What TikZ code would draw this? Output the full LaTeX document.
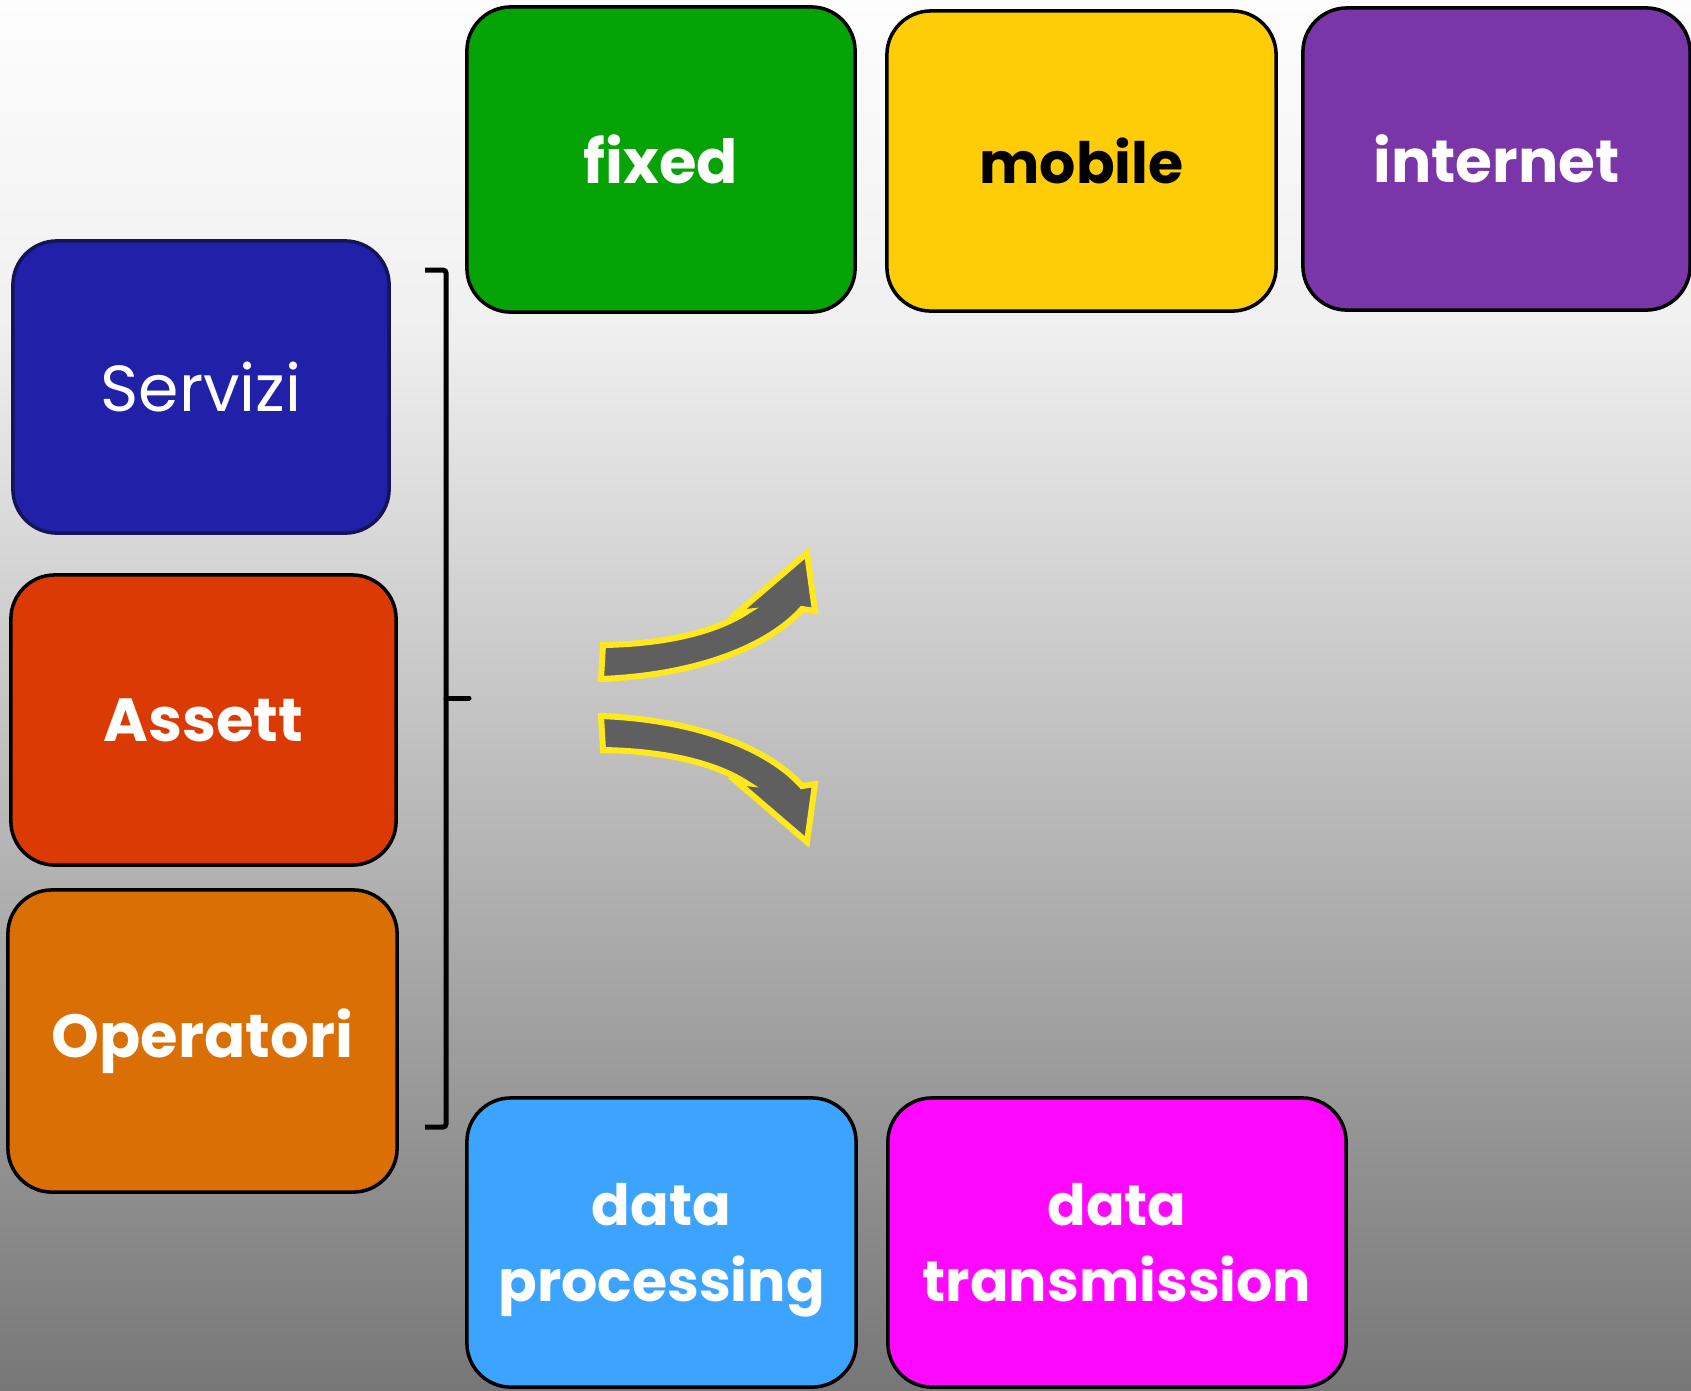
\documentclass[tikz,border=0pt]{standalone}
\usepackage{fontspec}
\setmainfont{Poppins}
\definecolor{bgtop}{RGB}{253,253,253}
\definecolor{bgmid}{RGB}{240,240,240}
\definecolor{bgbot}{RGB}{119,119,119}
\definecolor{cservizi}{RGB}{32,32,168}
\definecolor{cservizib}{RGB}{20,20,90}
\definecolor{cassett}{RGB}{220,58,5}
\definecolor{coperatori}{RGB}{217,111,5}
\definecolor{cfixed}{RGB}{5,163,5}
\definecolor{cmobile}{RGB}{255,204,8}
\definecolor{cinternet}{RGB}{122,53,168}
\definecolor{cdataproc}{RGB}{60,163,255}
\definecolor{cdatatrans}{RGB}{255,8,255}
\definecolor{arrowgray}{RGB}{95,95,95}
\definecolor{arrowyellow}{RGB}{255,232,30}
\tikzset{
  box/.style={draw=black, line width=1pt, rounded corners=0.44cm, inner sep=0pt,
    align=center, text=white, font=\fontsize{16.2}{21.5}\selectfont\bfseries},
  bigtext/.style={font=\fontsize{17.3}{21.5}\selectfont\bfseries},
  curvearrow/.style={fill=arrowgray, draw=arrowyellow, line width=0.06cm, line join=miter},
  bracketline/.style={line width=0.05cm, draw=black}
}
\begin{document}
\begin{tikzpicture}[x=0.01cm,y=-0.01cm]
\useasboundingbox (0,0) rectangle (1691,1390);
\fill[top color=bgtop, bottom color=bgmid] (0,0) rectangle (1691,322);
\fill[top color=bgmid, bottom color=bgbot] (0,320) rectangle (1691,1390);

% left column
\node[box, draw=cservizib, fill=cservizi, minimum width=3.76cm, minimum height=2.92cm,
  font=\fontsize{18.5}{21.5}\selectfont] (servizi) at (201,387) {Servizi};
\node[box, bigtext, fill=cassett, minimum width=3.85cm, minimum height=2.90cm] (assett) at (203.5,720) {Assett};
\node[box, bigtext, fill=coperatori, minimum width=3.89cm, minimum height=3.02cm] (operatori) at (202.5,1041) {Operatori};

% top row
\node[box, bigtext, fill=cfixed, minimum width=3.88cm, minimum height=3.05cm] (fixed) at (661,159.5) {fixed};
\node[box, fill=cmobile, text=black, minimum width=3.89cm, minimum height=3.00cm] (mobile) at (1081.5,161) {mobile};
\node[box, fill=cinternet, minimum width=3.87cm, minimum height=3.02cm,
  font=\fontsize{17}{21.5}\selectfont\bfseries] (internet) at (1496.5,159) {internet};

% bottom row
\node[box, fill=cdataproc, minimum width=3.89cm, minimum height=2.89cm] (dataproc) at (661.5,1242.5) {data\\\smash{processing}};
\node[box, fill=cdatatrans, minimum width=4.58cm, minimum height=2.89cm] (datatrans) at (1117,1242.5) {data\\transmission};

% bracket
\draw[bracketline, rounded corners=0.03cm] (425,270) -- (446,270) -- (446,1127) -- (425,1127);
\draw[bracketline, line cap=round] (446,698) -- (469,698);

% curved arrows
\draw[curvearrow] (603,645) .. controls (665,644) and (715,632) .. (746,612)
  -- (737,613) -- (807,553) -- (815,611) -- (802,609)
  .. controls (770,645) and (700,675) .. (601,679) -- cycle;
\draw[curvearrow] (603,750) .. controls (665,751) and (715,763) .. (746,783)
  -- (737,782) -- (807,842) -- (815,784) -- (802,786)
  .. controls (770,750) and (700,720) .. (601,716) -- cycle;
\end{tikzpicture}
\end{document}
